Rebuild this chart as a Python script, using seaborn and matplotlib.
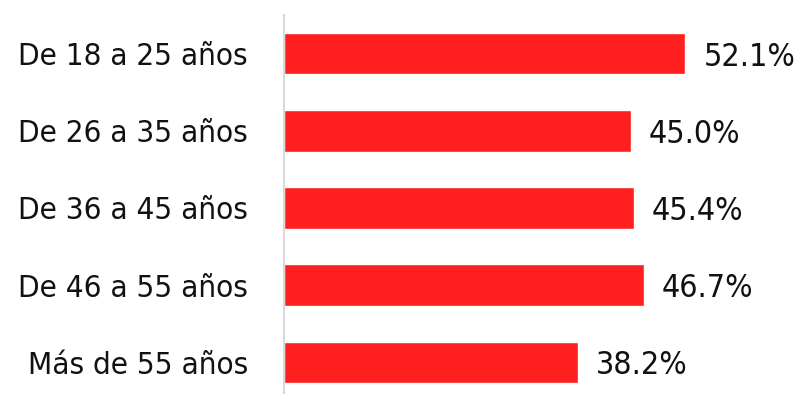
import matplotlib
matplotlib.use("Agg")
import matplotlib.pyplot as plt
import seaborn as sns
import pandas as pd

grupos = ["De 18 a 25 años", "De 26 a 35 años", "De 36 a 45 años",
          "De 46 a 55 años", "Más de 55 años"]
porcentajes = [52.1, 45.0, 45.4, 46.7, 38.2]

sns.set_style("white")
plt.rcParams["font.family"] = ["DejaVu Sans"]
plt.rcParams["font.stretch"] = "condensed"

df = pd.DataFrame({"grupo": grupos, "pct": porcentajes})

fig = plt.figure(figsize=(8, 3.94), dpi=100)
ax = fig.add_axes([0.355, 0.0, 0.645, 0.962])
sns.barplot(data=df, x="pct", y="grupo", orient="h", color="#ff1f1f",
            saturation=1, width=0.54, ax=ax)

# value labels to the right of each bar
texts = ax.bar_label(ax.containers[0], labels=[f"{v:.1f}%" for v in porcentajes],
                     padding=13, fontsize=23, color="#111111")
for t in texts:
    t.set_verticalalignment("center_baseline")

ax.set_xlim(0, 67)
ax.set_ylim(4.41, -0.5)
ax.set_xlabel("")
ax.set_ylabel("")
ax.set_xticks([])
ax.tick_params(axis="y", length=0, pad=26, labelsize=22.5, labelcolor="#111111")
for lbl in ax.get_yticklabels():
    lbl.set_verticalalignment("center_baseline")
for s in ["top", "right", "bottom"]:
    ax.spines[s].set_visible(False)
ax.spines["left"].set_color("#d9d9d9")
ax.spines["left"].set_linewidth(1.5)

fig.savefig("out.png", dpi=100)
